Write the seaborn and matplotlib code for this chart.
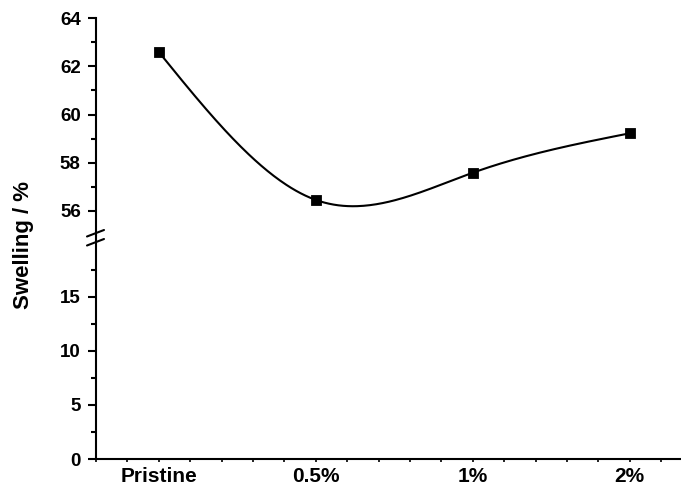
import numpy as np
import pandas as pd
import matplotlib
matplotlib.use('Agg')
import matplotlib.pyplot as plt
import seaborn as sns
from matplotlib.lines import Line2D

categories = ['Pristine', '0.5%', '1%', '2%']
positions = [1, 2, 3, 4]
swelling = [62.6, 56.45, 57.58, 59.22]

upper_ticks = [56, 58, 60, 62, 64]
lower_ticks = [0, 5, 10, 15]


def natural_spline(x, y, xs):
    # natural cubic spline through the points (Origin-like smooth connect)
    x = np.asarray(x, float)
    y = np.asarray(y, float)
    n = len(x)
    h = np.diff(x)
    A = np.zeros((n, n))
    b = np.zeros(n)
    A[0, 0] = 1
    A[-1, -1] = 1
    for i in range(1, n - 1):
        A[i, i - 1] = h[i - 1]
        A[i, i] = 2 * (h[i - 1] + h[i])
        A[i, i + 1] = h[i]
        b[i] = 6 * ((y[i + 1] - y[i]) / h[i] - (y[i] - y[i - 1]) / h[i - 1])
    M = np.linalg.solve(A, b)
    out = np.empty_like(xs)
    for k, t in enumerate(xs):
        i = min(max(np.searchsorted(x, t) - 1, 0), n - 2)
        a = x[i + 1] - t
        c = t - x[i]
        out[k] = (M[i] * a ** 3 + M[i + 1] * c ** 3) / (6 * h[i]) \
            + (y[i] / h[i] - M[i] * h[i] / 6) * a \
            + (y[i + 1] / h[i] - M[i + 1] * h[i] / 6) * c
    return out


sns.set_style('ticks')
plt.rcParams['font.family'] = ['Liberation Sans', 'DejaVu Sans']
plt.rcParams['font.weight'] = 'bold'
for key in ('text.color', 'axes.labelcolor', 'xtick.color', 'ytick.color',
            'axes.edgecolor'):
    plt.rcParams[key] = 'black'

W, H = 681, 488
fig = plt.figure(figsize=(W / 100, H / 100), dpi=100)

left = 96 / W
ax_top = fig.add_axes([left, 1 - 234.8 / H, 1 - left, (234.8 - 18.3) / H])
ax_bot = fig.add_axes([left, 1 - 459 / H, 1 - left, (459 - 242.6) / H])

xs = np.linspace(positions[0], positions[-1], 300)
curve = pd.DataFrame({'x': xs, 'y': natural_spline(positions, swelling, xs)})
pts = pd.DataFrame({'x': positions, 'y': swelling})

for ax in (ax_top, ax_bot):
    sns.lineplot(data=curve, x='x', y='y', ax=ax, color='black', linewidth=1.5)
    sns.scatterplot(data=pts, x='x', y='y', ax=ax, marker='s', s=55,
                    color='black', edgecolor='black', zorder=5)
    ax.set_xlim(0.6, 0.6 + (W - 96) / 157)
    ax.set_xlabel('')
    ax.set_ylabel('')
    for side in ('top', 'right'):
        ax.spines[side].set_visible(False)
    ax.spines['left'].set_linewidth(1.5)
    ax.spines['bottom'].set_linewidth(1.5)
    ax.tick_params(axis='y', which='major', length=6, width=1.5,
                   labelsize=13.5, pad=5)
    ax.tick_params(axis='y', which='minor', length=3.5, width=1.5)

ax_top.set_ylim(55, 64)
ax_top.set_yticks(upper_ticks)
ax_top.set_yticks([57, 59, 61, 63], minor=True)
ax_top.spines['bottom'].set_visible(False)
ax_top.tick_params(axis='x', which='both', bottom=False, labelbottom=False)

ax_bot.set_ylim(0, 20)
ax_bot.set_yticks(lower_ticks)
ax_bot.set_yticks([2.5, 7.5, 12.5, 17.5], minor=True)
ax_bot.set_xticks(positions)
ax_bot.set_xticklabels(categories)
ax_bot.set_xticks(np.arange(0.6, 4.35, 0.2), minor=True)
ax_bot.tick_params(axis='x', which='both', length=2.5, width=1.2,
                   labelsize=15, pad=3.5)

for lab in ax_top.get_yticklabels() + ax_bot.get_yticklabels() + ax_bot.get_xticklabels():
    lab.set_fontweight('bold')

# spine through the gap and the break marks
fig.add_artist(Line2D([left, left], [1 - 243 / H, 1 - 234.5 / H],
                      color='black', linewidth=1.5))
for y0 in (236.5, 245.5):
    fig.add_artist(Line2D([87 / W, 104 / W], [1 - y0 / H, 1 - (y0 - 6.5) / H],
                          color='black', linewidth=1.5))

fig.text(24 / W, 1 - 245 / H, 'Swelling / %', rotation=90, ha='center',
         va='center', fontsize=16, fontweight='bold')

fig.savefig('out.png', dpi=100)
